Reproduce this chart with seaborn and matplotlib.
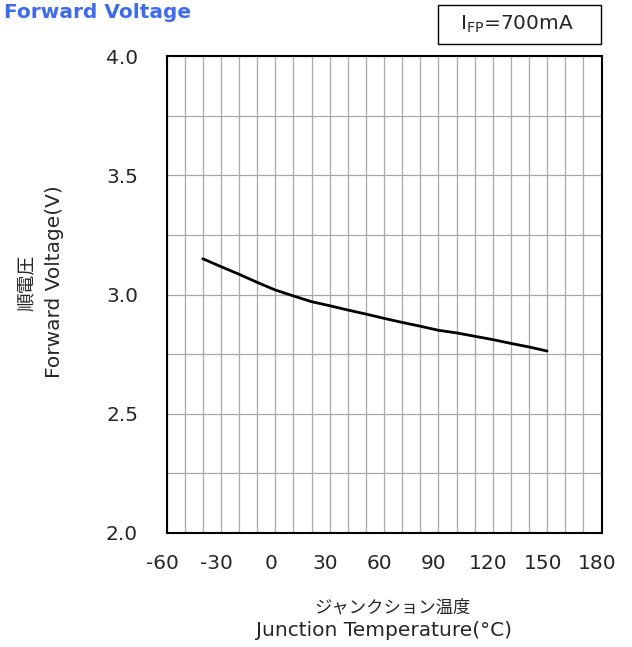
import numpy as np
import pandas as pd
import matplotlib
matplotlib.use("Agg")
import matplotlib.pyplot as plt
from matplotlib.patches import Rectangle
from matplotlib.ticker import MultipleLocator
from matplotlib.transforms import ScaledTranslation
import seaborn as sns

# Forward voltage vs junction temperature at IFP = 700 mA
temperature_c = [-40, -30, -20, -10, 0, 10, 20, 30, 40, 50, 60, 70, 80, 90,
                 100, 110, 120, 130, 140, 150]
forward_voltage_v = [3.150, 3.117, 3.085, 3.051, 3.019, 2.994, 2.970, 2.953,
                     2.935, 2.918, 2.900, 2.883, 2.867, 2.850, 2.839, 2.825,
                     2.811, 2.795, 2.780, 2.763]
x_ticks = [-60, -30, 0, 30, 60, 90, 120, 150, 180]
y_ticks = [2.0, 2.5, 3.0, 3.5, 4.0]

sns.set_style("white")
plt.rcParams["font.family"] = ["DejaVu Sans", "Noto Sans CJK JP"]

df = pd.DataFrame({"Tj": temperature_c, "VF": forward_voltage_v})

fig = plt.figure(figsize=(6.32, 6.47), dpi=100)
ax = fig.add_axes([166.5 / 632, 1 - 533 / 647, 435 / 632, 477 / 647])

sns.lineplot(data=df, x="Tj", y="VF", ax=ax, color="black", linewidth=2.0, zorder=3)

ax.set_xlim(-60, 180)
ax.set_ylim(2.0, 4.0)
ax.set_xticks(x_ticks)
ax.set_yticks(y_ticks)
ax.set_xticklabels([f"{t}" for t in x_ticks])
ax.set_yticklabels([f"{v:.1f}" for v in y_ticks])
ax.xaxis.set_minor_locator(MultipleLocator(10))
ax.yaxis.set_minor_locator(MultipleLocator(0.25))

ax.grid(which="both", color="#a8a8a8", linewidth=0.9, zorder=0)
ax.set_axisbelow(True)
for s in ax.spines.values():
    s.set_color("black")
    s.set_linewidth(1.5)
    s.set_visible(True)

ax.tick_params(axis="both", which="major", direction="in", length=5, width=1,
               color="black", labelsize=14.5)
ax.tick_params(axis="both", which="minor", length=0)
ax.tick_params(axis="y", pad=20.5)
ax.tick_params(axis="x", pad=15)

# x tick labels sit slightly left of their ticks
shift = ScaledTranslation(-4.5 / 100, 0, fig.dpi_scale_trans)
for lbl in ax.get_xticklabels():
    lbl.set_transform(lbl.get_transform() + shift)

ax.set_xlabel("Junction Temperature(°C)", fontsize=14.5)
ax.xaxis.set_label_coords(0.5, -0.2034)
ax.xaxis.label.set_va("center")
ax.text(0.5207, -0.157, "ジャンクション温度", transform=ax.transAxes,
        fontsize=12.5, ha="center", va="center")

ax.set_ylabel("Forward Voltage(V)", fontsize=14.5)
ax.yaxis.set_label_coords(-0.2586, 0.526)
ax.yaxis.label.set_va("center")
ax.text(-0.323, 0.524, "順電圧", transform=ax.transAxes, fontsize=13.5,
        rotation=90, ha="center", va="center")

fig.text(4 / 632, 1 - 18.5 / 647, "Forward Voltage", fontsize=14.5,
         fontweight="bold", color="#3d6af5", ha="left", va="baseline")

fig.patches.append(Rectangle((438 / 632, 1 - 44 / 647), 163 / 632, 39 / 647,
                             transform=fig.transFigure, facecolor="white",
                             edgecolor="black", linewidth=1.0))
fig.text(517 / 632, 1 - 24.5 / 647, r"I$_{\mathregular{FP}}$=700mA",
         fontsize=14.5, ha="center", va="center")

fig.savefig("out.png", dpi=100, facecolor="white")
